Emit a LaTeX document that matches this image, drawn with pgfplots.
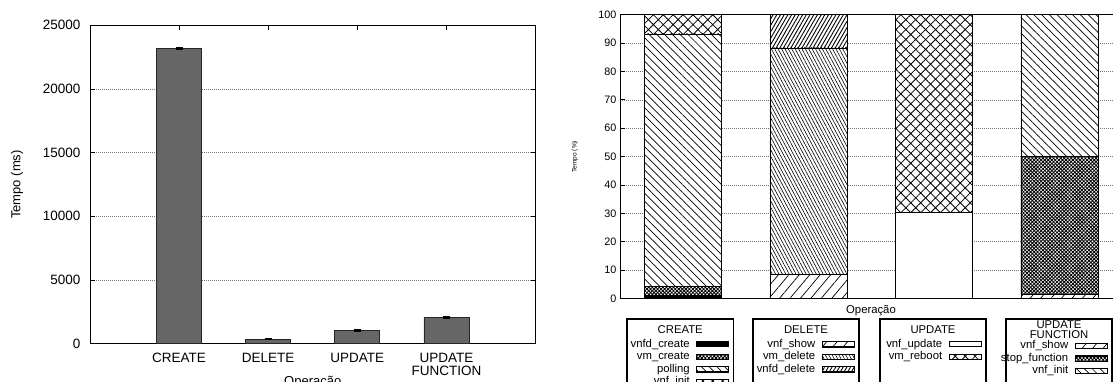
\documentclass[border=0pt]{standalone}
\usepackage{pgfplots}
\pgfplotsset{compat=1.18}
\usepackage{pgfplotstable}
\usetikzlibrary{patterns.meta}
\usepackage{fontspec}
\setmainfont{Liberation Sans}

\definecolor{barfill}{HTML}{666666}
\definecolor{gridgray}{HTML}{777777}

% total time of each operation (ms)
\pgfplotstableread{
x  tempo  err
1  23150  60
2  360    25
3  1030   30
4  2040   35
}\tempos

% share of each step in the time of its operation (%)
\pgfplotstableread{
x vnfdcreate vmcreate polling cinit dshow vmdelete vnfddelete vnfupdate vmreboot ushow stopfn uinit
1 1.0 3.4 88.8 6.8  0   0    0     0    0     0   0    0
2 0   0   0    0    8.4 79.9 11.7  0    0     0   0    0
3 0   0   0    0    0   0    0     30.4 69.6  0   0    0
4 0   0   0    0    0   0    0     0    0     1.4 48.8 49.8
}\etapas

\tikzset{
  seg solid/.style={draw=black, fill=black},
  seg dense/.style={draw=black, preaction={fill=white}, pattern={Hatch[angle=45,distance=2.5pt,line width=0.85pt]}},
  seg back/.style={draw=black, preaction={fill=white}, pattern={Lines[angle=-45,distance=5.5pt,line width=0.7pt]}},
  seg cross/.style={draw=black, preaction={fill=white}, pattern={Hatch[angle=45,distance=7pt,line width=0.8pt]}},
  seg fwd/.style={draw=black, preaction={fill=white}, pattern={Lines[angle=50,distance=8pt,line width=0.7pt]}},
  seg denseback/.style={draw=black, preaction={fill=white}, pattern={Lines[angle=-62,distance=3pt,line width=0.6pt]}},
  seg densefwd/.style={draw=black, preaction={fill=white}, pattern={Lines[angle=60,distance=3.2pt,line width=0.9pt]}},
  seg empty/.style={draw=black, fill=white},
}

\pgfplotsset{
  legend box/.style={
    hide axis, scale only axis, width=20pt, height=20pt,
    xmin=0, xmax=1, ymin=0, ymax=1, anchor=north east,
    legend plot pos=right, legend cell align=right,
    legend image code/.code={\draw[##1, line width=0.8pt] (0pt,-2.6pt) rectangle (32pt,2.6pt);},
    legend style={at={(1,1)}, anchor=north east, draw=none, fill=none,
      inner sep=0pt, row sep=1pt, column sep=6pt,
      font=\fontsize{11.3}{13}\selectfont,
      nodes={inner sep=0.5pt, text height=8pt, text depth=2.5pt}},
  },
}

\begin{document}
\begin{tikzpicture}

% ---- time per operation ----
\begin{axis}[
  at={(90pt,37.3pt)}, anchor=south west,
  scale only axis, width=445.5pt, height=318.4pt,
  ybar, bar width=45pt,
  xmin=0, xmax=5, ymin=0, ymax=25000,
  xtick={1,2,3,4},
  xticklabels={CREATE,DELETE,UPDATE,{UPDATE\\FUNCTION}},
  ytick={0,5000,10000,15000,20000,25000},
  scaled y ticks=false,
  /pgf/number format/assume math mode=true,
  y tick label style={/pgf/number format/1000 sep={}, xshift=-6pt},
  tick align=inside, major tick length=5pt,
  tick style={black, line width=0.8pt},
  axis line style={black, line width=1pt},
  ymajorgrids, grid style={gridgray, line width=0.5pt, dash pattern=on 1pt off 1pt},
  tick label style={font=\fontsize{13.5}{12.7}\selectfont},
  xticklabel style={align=center, yshift=-6pt},
  xlabel={Operação}, ylabel={Tempo (ms)},
  label style={font=\fontsize{13}{13}\selectfont},
  xlabel style={at={(axis description cs:0.5,-0.12)}, anchor=center},
  ylabel style={at={(axis description cs:-0.164,0.5)}, anchor=center},
]
\addplot[fill=barfill, draw=black!85, line width=0.8pt,
  error bars/.cd, y dir=both, y explicit, error mark=|,
  error bar style={black, line width=0.8pt},
  error mark options={black, line width=1.6pt, mark size=3.5pt}]
  table[x=x, y=tempo, y error=err] {\tempos};
\end{axis}

% ---- share of each step ----
\begin{axis}[
  at={(620pt,82.5pt)}, anchor=south west,
  scale only axis, width=502pt, height=283.8pt,
  ybar stacked, bar width=77pt,
  xmin=0.5, xmax=4.5, ymin=0, ymax=100,
  xtick=\empty, ytick={0,10,...,100},
  /pgf/number format/assume math mode=true,
  tick align=inside, major tick length=5pt,
  tick style={black, line width=0.8pt},
  axis line style={black, line width=1pt},
  ymajorgrids, grid style={gridgray, line width=0.5pt, dash pattern=on 1pt off 1pt},
  tick label style={font=\fontsize{10.8}{10.8}\selectfont},
  xlabel={Operação}, ylabel={Tempo (\%)},
  xlabel style={at={(axis description cs:0.5,-0.044)}, anchor=center, font=\fontsize{11.3}{11.3}\selectfont},
  ylabel style={at={(axis description cs:-0.0896,0.5)}, anchor=center, font=\fontsize{6.5}{6.5}\selectfont},
]
\addplot[seg solid]     table[x=x, y=vnfdcreate] {\etapas};
\addplot[seg dense]     table[x=x, y=vmcreate]   {\etapas};
\addplot[seg back]      table[x=x, y=polling]    {\etapas};
\addplot[seg cross]     table[x=x, y=cinit]      {\etapas};
\addplot[seg fwd]       table[x=x, y=dshow]      {\etapas};
\addplot[seg denseback] table[x=x, y=vmdelete]   {\etapas};
\addplot[seg densefwd]  table[x=x, y=vnfddelete] {\etapas};
\addplot[seg empty]     table[x=x, y=vnfupdate]  {\etapas};
\addplot[seg cross]     table[x=x, y=vmreboot]   {\etapas};
\addplot[seg fwd]       table[x=x, y=ushow]      {\etapas};
\addplot[seg dense]     table[x=x, y=stopfn]     {\etapas};
\addplot[seg back]      table[x=x, y=uinit]      {\etapas};
\end{axis}

% ---- one key per operation ----
\begin{axis}[legend box, at={(729.2pt,42.7pt)}]
\addlegendimage{seg solid}\addlegendentry{vnfd\_create}
\addlegendimage{seg dense}\addlegendentry{vm\_create}
\addlegendimage{seg back}\addlegendentry{polling}
\addlegendimage{seg cross}\addlegendentry{vnf\_init}
\end{axis}
\begin{axis}[legend box, at={(854.7pt,42.7pt)}]
\addlegendimage{seg fwd}\addlegendentry{vnf\_show}
\addlegendimage{seg denseback}\addlegendentry{vm\_delete}
\addlegendimage{seg densefwd}\addlegendentry{vnfd\_delete}
\end{axis}
\begin{axis}[legend box, at={(981.7pt,42.7pt)}]
\addlegendimage{seg empty}\addlegendentry{vnf\_update}
\addlegendimage{seg cross}\addlegendentry{vm\_reboot}
\end{axis}
\begin{axis}[legend box, at={(1107.7pt,41.0pt)}]
\addlegendimage{seg fwd}\addlegendentry{vnf\_show}
\addlegendimage{seg dense}\addlegendentry{stop\_function}
\addlegendimage{seg back}\addlegendentry{vnf\_init}
\end{axis}

\begin{scope}[line width=1.5pt, font=\fontsize{11.3}{10}\selectfont]
\draw (627pt,-30pt) rectangle (733.5pt,62pt);
\draw (753pt,-30pt) rectangle (859pt,62pt);
\draw (880pt,-30pt) rectangle (986pt,62pt);
\draw (1006pt,-30pt) rectangle (1112pt,62pt);
\node at (680.2pt,51.7pt) {CREATE};
\node at (806pt,51.7pt) {DELETE};
\node at (933pt,51.7pt) {UPDATE};
\node[align=center, inner sep=0pt] at (1059pt,51.6pt) {UPDATE\\FUNCTION};
\end{scope}

\pgfresetboundingbox
\path[use as bounding box] (0pt,0pt) rectangle (1113pt,381pt);
\end{tikzpicture}
\end{document}
